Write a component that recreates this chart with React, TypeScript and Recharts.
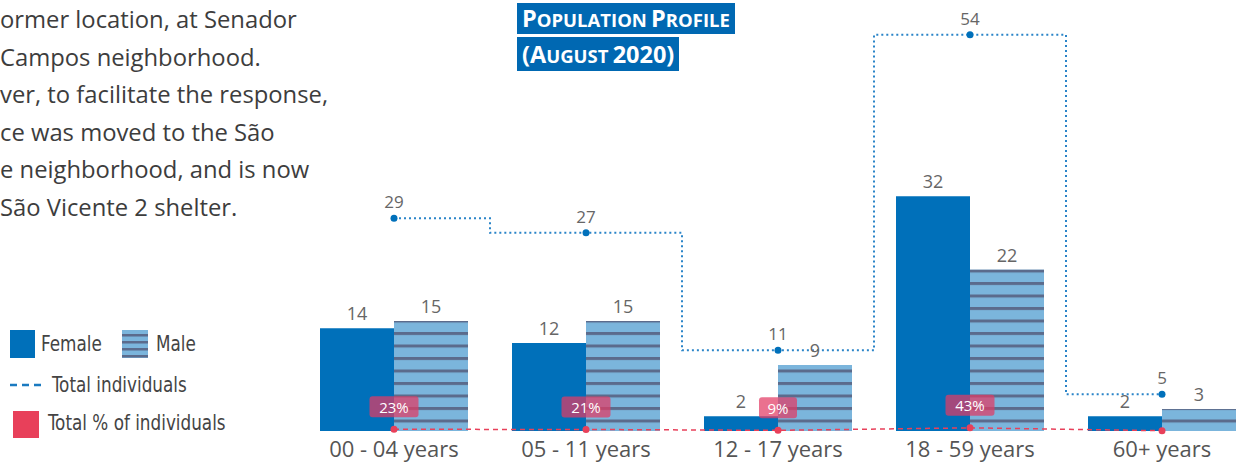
import React from "react";
import {
  ComposedChart,
  Bar,
  Line,
  XAxis,
  YAxis,
  LabelList,
} from "recharts";

// age groups along the bottom
const categories = [
  "00 - 04 years",
  "05 - 11 years",
  "12 - 17 years",
  "18 - 59 years",
  "60+ years",
];
const female = [14, 12, 2, 32, 2];
const male = [15, 15, 9, 22, 3];
const totals = [29, 27, 11, 54, 5];
// share of all individuals, in %
const totalPct = [23, 21, 9, 43, 4];
const pctLabels = ["23%", "21%", "9%", "43%", ""];

const introLines = [
  "ormer location, at Senador",
  "Campos neighborhood.",
  "ver, to facilitate the response,",
  "ce was moved to the São",
  "e neighborhood, and is now",
  "São Vicente 2 shelter.",
];

const BLUE = "#0070ba";
const LIGHT = "#7bb5dc";
const STRIPE = "#5b6b8c";
const RED = "#e8405a";
const CHART_FONT = '"Open Sans", "Noto Sans", sans-serif';
const LEGEND_FONT = '"Liberation Sans Narrow", "DejaVu Sans Condensed", sans-serif';

const data = categories.map((c, i) => ({
  category: c,
  female: female[i],
  male: male[i],
  total: totals[i],
  // plotted on the count axis, so it sits right on the baseline
  pct: totalPct[i] / 100,
  pctLabel: pctLabels[i],
}));

function PctBox(props: any) {
  const { x, y, value } = props;
  if (!value) return null;
  const w = String(value).length * 11 + 16;
  return (
    <g>
      <rect
        x={x - w / 2}
        y={y - 33}
        width={w}
        height={21}
        rx={3}
        fill="rgba(226, 58, 100, 0.72)"
      />
      <text
        x={x}
        y={y - 22.5}
        textAnchor="middle"
        dominantBaseline="central"
        fill="#fff"
        fontSize={15}
        fontFamily={CHART_FONT}
      >
        {value}
      </text>
    </g>
  );
}

// hand-made small caps: first letter of each word bigger
function SmallCaps({ text }: { text: string }) {
  return (
    <>
      {text.split(" ").map((w, i) => {
        const k = w.startsWith("(") ? 2 : 1;
        return (
          <span key={i}>
            {i > 0 ? " " : ""}
            <span style={{ fontSize: 23.5 }}>{w.slice(0, k)}</span>
            <span style={{ fontSize: /\d/.test(w) ? 23.5 : 18.5 }}>{w.slice(k).toUpperCase()}</span>
          </span>
        );
      })}
    </>
  );
}

function Legend() {
  const txt: React.CSSProperties = {
    position: "absolute",
    fontFamily: LEGEND_FONT,
    fontSize: 22,
    color: "#444",
    lineHeight: "26px",
    whiteSpace: "nowrap",
    transform: "scaleX(0.85)",
    transformOrigin: "left center",
  };
  return (
    <>
      <div style={{ position: "absolute", left: 10, top: 330, width: 25, height: 28, background: BLUE }} />
      <div style={{ ...txt, left: 41, top: 331 }}>Female</div>
      <svg style={{ position: "absolute", left: 122, top: 330 }} width={26} height={28}>
        <rect width={26} height={28} fill={LIGHT} />
        {[4, 11, 18, 25].map((s) => (
          <rect key={s} y={s} width={26} height={2.5} fill={STRIPE} />
        ))}
      </svg>
      <div style={{ ...txt, left: 156, top: 331 }}>Male</div>
      <svg style={{ position: "absolute", left: 10, top: 382 }} width={32} height={6}>
        <line x1={0} y1={3} x2={32} y2={3} stroke="#1a7ac0" strokeWidth={2.5} strokeDasharray="7 5" />
      </svg>
      <div style={{ ...txt, left: 52, top: 372 }}>Total individuals</div>
      <div style={{ position: "absolute", left: 13, top: 411, width: 26, height: 27, background: RED }} />
      <div style={{ ...txt, left: 48, top: 410 }}>Total % of individuals</div>
    </>
  );
}

export default function App() {
  const titleBox: React.CSSProperties = {
    position: "absolute",
    left: 517,
    padding: "0 5px",
    background: "#0068b2",
    color: "#fff",
    fontFamily: '"Open Sans", sans-serif',
    fontWeight: 700,
    whiteSpace: "nowrap",
  };
  return (
    <div
      style={{
        position: "fixed",
        left: 0,
        top: 0,
        width: 1242,
        height: 463,
        overflow: "hidden",
        background: "#fff",
      }}
    >
      {introLines.map((l, i) => (
        <div
          key={i}
          style={{
            position: "absolute",
            left: 0,
            top: 3 + i * 37.5,
            fontFamily: '"Open Sans", sans-serif',
            fontSize: 23.8,
            color: "#3d3d3d",
            whiteSpace: "nowrap",
          }}
        >
          {l}
        </div>
      ))}

      <div style={{ ...titleBox, top: 3, height: 31, lineHeight: "31px" }}>
        <SmallCaps text="Population Profile" />
      </div>
      <div style={{ ...titleBox, top: 37, height: 34, lineHeight: "34px" }}>
        <SmallCaps text="(August 2020)" />
      </div>

      <Legend />

      <ComposedChart
        width={1262}
        height={463}
        data={data}
        margin={{ top: 20, right: 4, left: 298, bottom: 2 }}
        barGap={0}
        style={{ position: "absolute", left: 0, top: 0 }}
      >
        <defs>
          <pattern id="maleStripes" patternUnits="userSpaceOnUse" x={0} y={7} width={12} height={12.5}>
            <rect width={12} height={12.5} fill={LIGHT} />
            <rect width={12} height={3} fill={STRIPE} />
          </pattern>
        </defs>
        <XAxis
          dataKey="category"
          axisLine={false}
          tickLine={false}
          height={30}
          tickMargin={4}
          interval={0}
          tick={{ fontSize: 22, fill: "#555", fontFamily: CHART_FONT }}
        />
        <YAxis hide domain={[0, 56]} />
        <Bar dataKey="female" fill={BLUE} barSize={74} isAnimationActive={false}>
          <LabelList dataKey="female" position="top" offset={8} fill="#666" fontSize={18} fontFamily={CHART_FONT} />
        </Bar>
        <Bar dataKey="male" fill="url(#maleStripes)" barSize={74} isAnimationActive={false}>
          <LabelList dataKey="male" position="top" offset={8} fill="#666" fontSize={18} fontFamily={CHART_FONT} />
        </Bar>
        <Line
          type="step"
          dataKey="total"
          stroke="#2a84c8"
          strokeWidth={2}
          strokeDasharray="2 3"
          dot={{ r: 3.5, fill: BLUE, stroke: BLUE, strokeWidth: 0 }}
          activeDot={false}
          isAnimationActive={false}
        >
          <LabelList dataKey="total" position="top" offset={10} fill="#666" fontSize={17} fontFamily={CHART_FONT} />
        </Line>
        <Line
          type="linear"
          dataKey="pct"
          stroke={RED}
          strokeWidth={1.5}
          strokeDasharray="5 4"
          dot={{ r: 3.5, fill: RED, stroke: RED, strokeWidth: 0 }}
          activeDot={false}
          isAnimationActive={false}
        >
          <LabelList dataKey="pctLabel" content={PctBox} />
        </Line>
      </ComposedChart>
    </div>
  );
}
